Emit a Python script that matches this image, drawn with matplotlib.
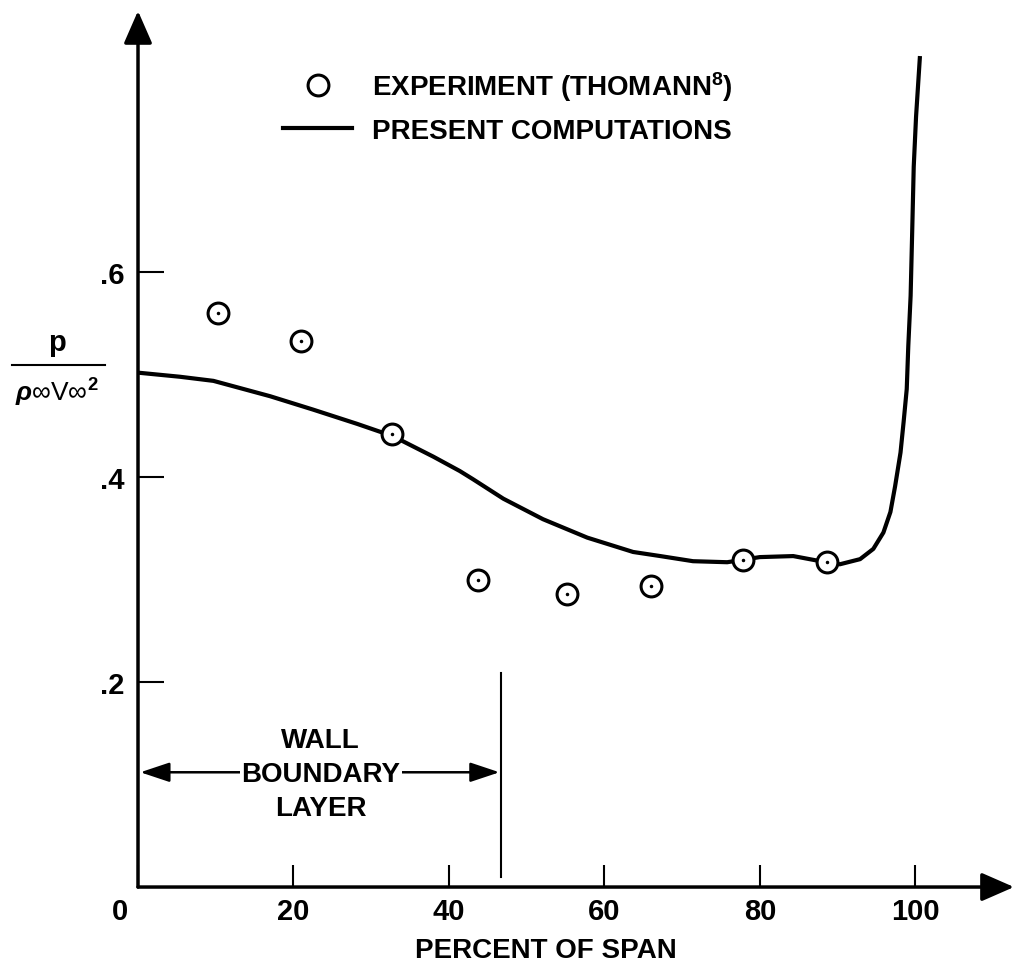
import matplotlib
matplotlib.use("Agg")
import matplotlib.pyplot as plt
from matplotlib.lines import Line2D
import matplotlib.transforms as mtransforms

plt.rcParams['font.family'] = ['Liberation Sans', 'DejaVu Sans']
plt.rcParams['font.weight'] = 'bold'
plt.rcParams['axes.labelweight'] = 'bold'
plt.rcParams['mathtext.fontset'] = 'custom'
plt.rcParams['mathtext.rm'] = 'Liberation Sans'
plt.rcParams['mathtext.it'] = 'Liberation Sans:italic'
plt.rcParams['mathtext.bf'] = 'Liberation Sans:bold'

# experiment (Thomann) - percent of span vs p/(rho V^2)
exp_x = [10.3, 21.0, 32.7, 43.8, 55.2, 66.0, 77.8, 88.7]
exp_y = [0.560, 0.533, 0.442, 0.300, 0.286, 0.294, 0.319, 0.317]

# present computations
comp_x = [0, 5.4, 9.7, 17.0, 22.5, 28.2, 32.8, 38.0, 41.4, 43.1, 47.0, 52.1,
          57.8, 63.7, 67.2, 71.4, 75.8, 80.0, 84.3, 87.8, 90.3, 92.9, 94.6,
          95.9, 96.8, 97.4, 98.1, 98.5, 98.9, 99.1, 99.4, 99.6, 99.8, 100.1, 100.6]
comp_y = [0.502, 0.498, 0.494, 0.479, 0.466, 0.452, 0.440, 0.420, 0.406, 0.398,
          0.379, 0.359, 0.341, 0.327, 0.323, 0.318, 0.317, 0.322, 0.323, 0.318,
          0.315, 0.320, 0.330, 0.346, 0.366, 0.391, 0.424, 0.454, 0.486, 0.528,
          0.577, 0.639, 0.703, 0.752, 0.811]

xticks = [0, 20, 40, 60, 80, 100]
yticks = [0.2, 0.4, 0.6]
ytick_labels = ['.2', '.4', '.6']
wall_x = 46.7   # edge of wall boundary layer

fig = plt.figure(figsize=(10.14, 9.70), dpi=100)
ax = fig.add_axes([0.1361, 0.0845, 0.8639, 0.9])
ax.set_xlim(0, 112.7)
ax.set_ylim(0, 0.852)
for s in ax.spines.values():
    s.set_visible(False)

# axes with arrow heads
arr = dict(arrowstyle='-|>,head_length=0.8,head_width=0.35', lw=2.5, color='k',
           mutation_scale=25, shrinkA=0, shrinkB=0)
ax.annotate('', xy=(112.7, 0), xytext=(0, 0), arrowprops=arr, annotation_clip=False)
ax.annotate('', xy=(0, 0.855), xytext=(0, 0), arrowprops=arr, annotation_clip=False)

ax.set_xticks(xticks)
ax.set_xticklabels([str(v) for v in xticks])
ax.set_yticks(yticks)
ax.set_yticklabels(ytick_labels)
ax.tick_params(axis='x', direction='in', length=16, width=1.5, pad=7, labelsize=21)
ax.tick_params(axis='y', direction='in', length=19, width=1.5, pad=10, labelsize=21)
# the origin label sits left of the y axis
lab0 = ax.get_xticklabels()[0]
lab0.set_transform(lab0.get_transform() + mtransforms.ScaledTranslation(-18/100, 0, fig.dpi_scale_trans))
ax.set_xlabel('PERCENT OF SPAN', fontsize=20)
ax.xaxis.set_label_coords(0.466, -0.057)

# data
ax.plot(comp_x, comp_y, color='k', lw=3, solid_capstyle='butt', solid_joinstyle='round',
        clip_on=False)
ax.plot(exp_x, exp_y, 'o', ms=15, mfc='white', mec='k', mew=2.2, clip_on=False)
ax.plot(exp_x, exp_y, '.', ms=3, color='k')

# wall boundary layer marker
ax.plot([wall_x, wall_x], [0.01, 0.209], color='k', lw=1.5)
ax.annotate('', xy=(0.3, 0.112), xytext=(wall_x - 0.2, 0.112),
            arrowprops=dict(arrowstyle='<|-|>,head_length=0.9,head_width=0.3', lw=1.8,
                            color='k', mutation_scale=20, shrinkA=0, shrinkB=0))
ax.text(23.5, 0.110, 'WALL\nBOUNDARY\nLAYER', ha='center', va='center', fontsize=20,
        linespacing=1.4, bbox=dict(facecolor='white', edgecolor='none', pad=1))

# legend
handles = [Line2D([], [], ls='none', marker='o', ms=15, mfc='white', mec='k', mew=2.2),
           Line2D([], [], color='k', lw=3)]
labels = [r'EXPERIMENT (THOMANN$^\mathbf{8}$)', 'PRESENT COMPUTATIONS']
ax.legend(handles, labels, loc='upper left', bbox_to_anchor=(283/1014, 1 - 70/970),
          bbox_transform=fig.transFigure, frameon=False, fontsize=20, handlelength=2.5,
          handletextpad=0.72, labelspacing=0.55, borderpad=0, borderaxespad=0)

# y label as a fraction
fig.text(57/1014, 1 - 343/970, 'p', ha='center', va='center', fontsize=21)
fig.add_artist(Line2D([12/1014, 105/1014], [1 - 366/970, 1 - 366/970], color='k', lw=1.5))
fig.text(57/1014, 1 - 393/970, r'$\it{\rho}$∞V∞$^2$', ha='center', va='center',
         fontsize=19, fontweight='normal')

fig.savefig('out.png', dpi=100)
